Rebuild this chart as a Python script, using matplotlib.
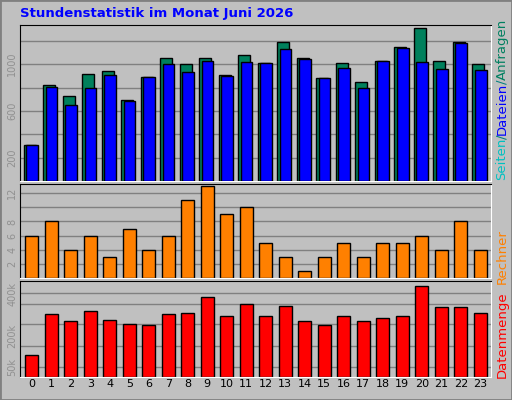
import matplotlib
matplotlib.use("Agg")
import matplotlib.pyplot as plt
from matplotlib.patches import Rectangle

hours = list(range(24))
hits = [311, 819, 724, 913, 939, 690, 888, 1052, 1000, 1052, 905, 1077, 1009, 1189,
        1052, 880, 1009, 845, 1026, 1146, 1310, 1026, 1189, 1000]
files = [311, 802, 647, 793, 905, 682, 888, 1000, 931, 1026, 897, 1017, 1009, 1129,
         1043, 880, 965, 793, 1026, 1137, 1017, 957, 1180, 948]
hosts = [6, 8, 4, 6, 3, 7, 4, 6, 11, 13, 9, 10, 5, 3, 1, 3, 5, 3, 5, 5, 6, 4, 8, 4]
kbytes = [108, 302, 268, 316, 273, 253, 248, 302, 306, 384, 292, 350, 292, 340,
          268, 248, 292, 268, 282, 292, 437, 335, 335, 306]
top_ticks = [200, 600, 1000]
mid_ticks = [2, 4, 6, 8, 12]
bot_ticks = [50, 200, 400]
bot_labels = ["50k", "200k", "400k"]

W, H = 512, 400
fig = plt.figure(figsize=(W/100, H/100), dpi=100)
fig.patch.set_facecolor("#c0c0c0")
fig.patches.append(Rectangle((0, 0), 1, 1, transform=fig.transFigure, fill=False,
                             edgecolor="#808080", lw=2))
fig.text(20/W, 1-14/H, "Stundenstatistik im Monat Juni 2026", color="#0000ff",
         fontsize=9.5, fontweight="bold", va="center", ha="left", family="DejaVu Sans")

def ax_px(x0, y0, x1, y1):
    return fig.add_axes([x0/W, 1-y1/H, (x1-x0)/W, (y1-y0)/H])

def style(ax, ymax, grid):
    ax.set_facecolor("#c0c0c0")
    ax.set_xlim(-0.6, 23.55)
    ax.set_ylim(0, ymax)
    for g in grid:
        ax.axhline(g, color="#808080", lw=1, zorder=0)
    for s in ax.spines.values():
        s.set_visible(False)
    ax.spines["left"].set_visible(True); ax.spines["left"].set_color("black")
    ax.spines["top"].set_visible(True); ax.spines["top"].set_color("black")
    ax.spines["bottom"].set_visible(True); ax.spines["bottom"].set_color("white")
    ax.spines["right"].set_visible(True); ax.spines["right"].set_color("white")
    ax.set_xticks([])
    ax.tick_params(axis="y", length=0, labelsize=7, labelcolor="#909090", pad=2)

def rot(ax):
    for t in ax.get_yticklabels():
        t.set_rotation(90); t.set_va("center")

ax1 = ax_px(20, 25, 491, 181)
style(ax1, 1335, [200, 400, 600, 800, 1000, 1200])
ax1.bar([h-0.1 for h in hours], hits, width=0.6, color="#00805c", edgecolor="black", lw=1, zorder=2)
ax1.bar([h+0.02 for h in hours], files, width=0.6, color="#0000ff", edgecolor="black", lw=1, zorder=3)
ax1.set_yticks(top_ticks); rot(ax1)

ax2 = ax_px(20, 184, 491, 278)
style(ax2, 13.3, [2, 4, 6, 8, 10, 12])
ax2.bar(hours, hosts, width=0.65, color="#ff8000", edgecolor="black", lw=1, zorder=2)
ax2.set_yticks(mid_ticks); rot(ax2)

ax3 = ax_px(20, 281, 491, 377)
style(ax3, 462, [50, 150, 253, 350, 403])
ax3.bar(hours, kbytes, width=0.65, color="#ff0000", edgecolor="black", lw=1, zorder=2)
ax3.set_yticks(bot_ticks); ax3.set_yticklabels(bot_labels); rot(ax3)
for h in hours:
    ax3.text(h, -0.07, str(h), transform=ax3.get_xaxis_transform(), ha="center", va="center",
             fontsize=8, color="black")

# right side labels, stacked bottom-up
xr = 502/W
r = fig.canvas.get_renderer()
ypix = H - 180  # bottom in display px
for s, c in [("Seiten", "#00c0c0"), ("/", "#008080"), ("Dateien", "#0000ff"),
             ("/", "#008080"), ("Anfragen", "#008060")]:
    t = fig.text(xr, ypix/H, s, color=c, rotation=90, fontsize=9.5, ha="center", va="bottom")
    bb = t.get_window_extent(r)
    ypix += bb.height - 1
fig.text(xr, 1-257/H, "Rechner", color="#ff8000", rotation=90, fontsize=9.5, ha="center", va="center")
fig.text(xr, 1-335/H, "Datenmenge", color="#ff0000", rotation=90, fontsize=9.5, ha="center", va="center")

fig.savefig("out.png", dpi=100, facecolor=fig.get_facecolor())
